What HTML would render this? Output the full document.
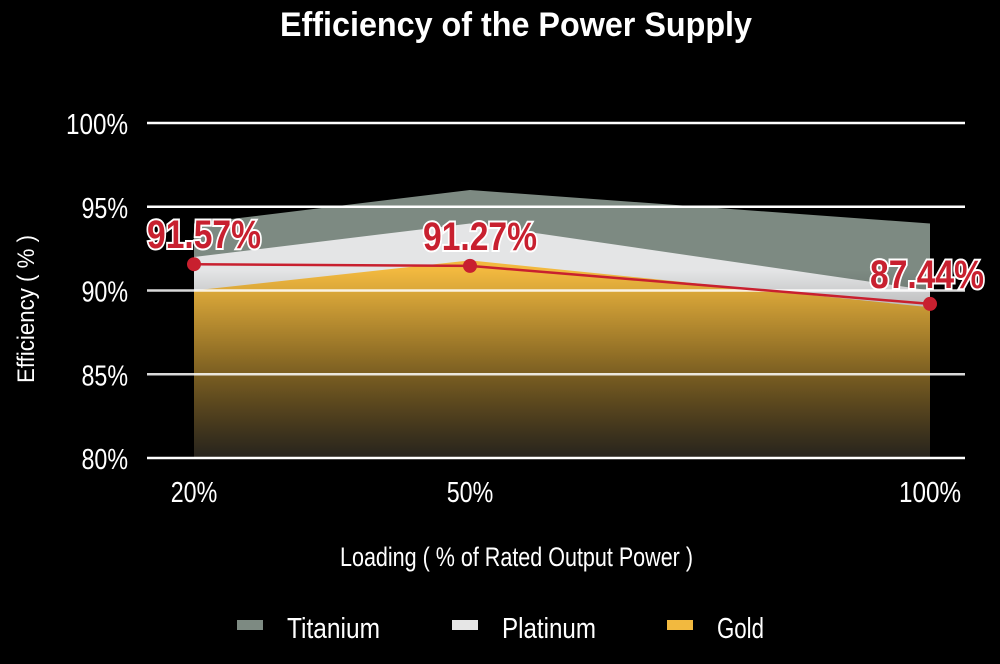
<!DOCTYPE html>
<html><head><meta charset="utf-8"><style>
html,body{margin:0;padding:0;background:#000;}
svg{display:block;}
text{font-family:"Liberation Sans",sans-serif;}
</style></head><body>
<svg id="chart" width="1000" height="664" viewBox="0 0 1000 664" xmlns="http://www.w3.org/2000/svg">
<defs>
<linearGradient id="fade" gradientUnits="userSpaceOnUse" x1="0" y1="270" x2="0" y2="458">
<stop offset="0" stop-color="#000" stop-opacity="0"/>
<stop offset="0.45" stop-color="#000" stop-opacity="0.4"/>
<stop offset="1" stop-color="#1c1c1c" stop-opacity="0.95"/>
</linearGradient>
</defs>
<text x="280" y="36" textLength="472" lengthAdjust="spacingAndGlyphs" fill="#fff" font-size="34" font-weight="bold">Efficiency of the Power Supply</text>
<g id="areas"></g>
<g id="grid"></g>
<g id="yticks"></g>
<g id="xticks"></g>
<g id="line"></g>
<text transform="translate(34,383) rotate(-90)" textLength="148" lengthAdjust="spacingAndGlyphs" fill="#fff" font-size="24">Efficiency ( % )</text>
<text x="340" y="566" textLength="353" lengthAdjust="spacingAndGlyphs" fill="#fff" font-size="27">Loading ( % of Rated Output Power )</text>
<g>
<g><rect x="237" y="620" width="26" height="10" fill="#7d8a82"/><text x="287" y="638" textLength="93" lengthAdjust="spacingAndGlyphs" fill="#fff" font-size="29">Titanium</text></g>
<g><rect x="452" y="620" width="26" height="10" fill="#e6e6e6"/><text x="502" y="638" textLength="94" lengthAdjust="spacingAndGlyphs" fill="#fff" font-size="29">Platinum</text></g>
<g><rect x="667" y="620" width="26" height="10" fill="#f2b93f"/><text x="717" y="638" textLength="47" lengthAdjust="spacingAndGlyphs" fill="#fff" font-size="29">Gold</text></g>
</g>
</svg>
<script>
const loads = [20, 50, 100];
const xLabels = ["20%", "50%", "100%"];
const titanium = [94, 96, 94];
const platinum = [92, 94, 90];
const gold = [90, 91.8, 89];
const measured = [91.57, 91.47, 89.2];
const measuredLabels = ["91.57%", "91.27%", "87.44%"];
const yTicks = [80, 85, 90, 95, 100];

const NS = "http://www.w3.org/2000/svg";
function xs(l){ return 194 + (l - 20) * (930 - 194) / 80; }
function ys(v){ return 458 - (v - 80) * (458 - 123) / 20; }
function mk(tag, attrs, parent){ const e = document.createElementNS(NS, tag); for (const k in attrs) e.setAttribute(k, attrs[k]); parent.appendChild(e); return e; }

const areas = document.getElementById("areas");
function areaPath(vals){
  let d = "M" + xs(loads[0]) + "," + ys(80);
  vals.forEach((v,i)=>{ d += " L" + xs(loads[i]) + "," + ys(v); });
  return d + " L" + xs(loads[loads.length-1]) + "," + ys(80) + " Z";
}
function area(vals, color, name){
  const p = mk("path", {d: areaPath(vals), fill: color}, areas);
  
  
}
area(titanium, "#7d8a82", "titanium-area");
area(platinum, "#e4e5e6", "platinum-area");
area(gold, "#f2b93f", "gold-area");
const fade = mk("path", {d: areaPath(titanium), fill: "url(#fade)"}, areas);



const grid = document.getElementById("grid"), yt = document.getElementById("yticks");
yTicks.forEach(t=>{
  const l = mk("line", {x1:147, x2:965, y1:ys(t), y2:ys(t), stroke:"#fff", "stroke-width":2.5, "stroke-opacity": t===85||t===90?0.85:1}, grid);
  
  
  const s = t + "%";
  const tx = mk("text", {x:128, y:ys(t)+11, "text-anchor":"end", fill:"#fff", "font-size":29, textLength: s.length*15.5, lengthAdjust:"spacingAndGlyphs"}, yt);
  tx.textContent = s;
  
  
});
const xt = document.getElementById("xticks");
loads.forEach((l,i)=>{
  const s = xLabels[i];
  const tx = mk("text", {x:xs(l), y:502, "text-anchor":"middle", fill:"#fff", "font-size":29, textLength: s.length*15.5, lengthAdjust:"spacingAndGlyphs"}, xt);
  tx.textContent = s;
  
  
});
const lg = document.getElementById("line");
const pts = measured.map((v,i)=>xs(loads[i]) + "," + ys(v)).join(" ");
const pl = mk("polyline", {points: pts, fill:"none", stroke:"#c8202f", "stroke-width":2.5}, lg);


measured.forEach((v,i)=>{
  const c = mk("circle", {cx: xs(loads[i]), cy: ys(v), r: 7, fill: "#c8202f"}, lg);
  
  
  const lx = i === loads.length-1 ? xs(loads[i]) - 3 : xs(loads[i]) + 10;
  const t = mk("text", {x: lx, y: ys(v) - 16, "text-anchor": "middle", fill: "#c8202f", stroke: "#fff", "stroke-width": 4, "paint-order": "stroke", "font-size": 40, "font-weight": "bold", textLength: 114, lengthAdjust: "spacingAndGlyphs"}, lg);
  t.textContent = measuredLabels[i];
  
  
});
</script>
</body></html>
